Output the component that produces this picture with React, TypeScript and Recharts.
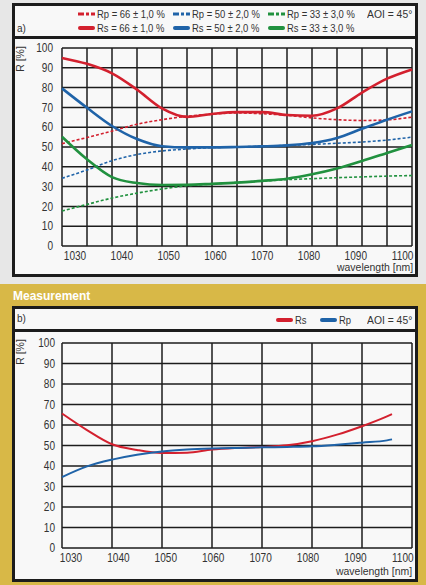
import { LineChart, Line, XAxis, YAxis, CartesianGrid } from 'recharts';

const FONT = "'Liberation Sans', Arial, sans-serif";
const INK = '#1c1c1c';
const TEXT = '#333';
const RED = '#d3202e';
const BLUE = '#1f63a8';
const GREEN = '#21913f';
const GOLD = '#d8b847';

// a) design curves, every 5 nm
const wavelengthsA = [1030, 1035, 1040, 1045, 1050, 1055, 1060, 1065, 1070, 1075, 1080, 1085, 1090, 1095, 1100];
const rs66 = [95, 92, 87.2, 79, 69.5, 65.2, 66.7, 67.6, 67.6, 66.2, 65.8, 69.5, 77.5, 84.5, 89.2];
const rp66 = [51.7, 54.8, 58, 61.5, 63.8, 65.5, 66.6, 67.2, 66.8, 66, 64.7, 63.8, 63.4, 63.7, 65.1];
const rs50 = [79.6, 69.8, 60.6, 54, 50.4, 49.8, 49.8, 50, 50.3, 50.8, 52, 54.6, 59.2, 63.8, 68];
const rp50 = [34.2, 38.4, 43.1, 46.2, 48, 49, 49.7, 50, 50.4, 50.8, 51.3, 51.9, 52.5, 53.5, 55];
const rs33 = [55.2, 43.8, 34.8, 31.8, 30.8, 30.9, 31.4, 32, 32.9, 34, 36.2, 39.1, 42.9, 47, 51];
const rp33 = [17.7, 21, 24.2, 26.7, 28.8, 30.4, 31.3, 32.1, 32.8, 33.5, 34, 34.5, 34.9, 35.3, 35.6];

// b) measurement
const wavelengthsB = [1030, 1035, 1040, 1045, 1050, 1055, 1060, 1065, 1070, 1075, 1080, 1085, 1090, 1095, 1096];
const rsMeas = [65.6, 57.5, 50.6, 47.8, 46.3, 46.5, 48, 48.8, 49.3, 50.1, 52.1, 55.3, 59.4, 64.2, 65.3];
const rpMeas = [34.6, 39.8, 43.1, 45.5, 47.1, 48, 48.5, 48.8, 49.1, 49.3, 49.6, 50.4, 51.4, 52.5, 53];

const ticksA = [1030, 1035, 1040, 1045, 1050, 1055, 1060, 1065, 1070, 1075, 1080, 1085, 1090, 1095, 1100];
const ticksB = [1030, 1040, 1050, 1060, 1070, 1080, 1090, 1100];
const ticksY = [0, 10, 20, 30, 40, 50, 60, 70, 80, 90, 100];

const dataA = wavelengthsA.map((wl, i) => ({
  wl, rs66: rs66[i], rp66: rp66[i], rs50: rs50[i], rp50: rp50[i], rs33: rs33[i], rp33: rp33[i],
}));
const dataB = wavelengthsB.map((wl, i) => ({ wl, rs: rsMeas[i], rp: rpMeas[i] }));

// the print uses a condensed face; squeeze Liberation Sans horizontally
const NARROW = 0.84;

// labels drift a little against the grid in the original print
const makeXTick = (start: number, drift: number) => (props: any) => {
  const { x, y, payload } = props;
  const v = payload.value;
  if (v % 10 !== 0) return <g />;
  const cx = x + start - (v - 1030) * drift;
  return (
    <text transform={`translate(${cx},${y}) scale(${NARROW},1)`} x={0} y={0} dy="0.71em" textAnchor="middle"
      fontSize={12} fill={TEXT} fontFamily={FONT}>{v}</text>
  );
};

const YTick = (props: any) => {
  const { x, y, payload } = props;
  return (
    <text transform={`translate(${x},${y}) scale(${NARROW},1)`} x={0} y={0} dy="0.355em" textAnchor="end"
      fontSize={12} fill={TEXT} fontFamily={FONT}>{payload.value}</text>
  );
};

const Swatch = ({ color, dashed }: { color: string; dashed?: boolean }) => (
  <svg width={17} height={6} style={{ display: 'block', flex: 'none' }}>
    {dashed
      ? <line x1={0} y1={3} x2={17} y2={3} stroke={color} strokeWidth={3} strokeDasharray="6 2 3 2" />
      : <line x1={2} y1={3} x2={15} y2={3} stroke={color} strokeWidth={4} strokeLinecap="round" />}
  </svg>
);

const Narrow = ({ children, scale = NARROW, origin = 'left' }: any) => (
  <span style={{ display: 'inline-block', transform: `scaleX(${scale})`, transformOrigin: origin }}>{children}</span>
);

const LegendItem = ({ left, top, color, dashed, text }: any) => (
  <div style={{ position: 'absolute', left, top, display: 'flex', alignItems: 'center', gap: 2,
    fontFamily: FONT, fontSize: 11.5, color: TEXT, whiteSpace: 'nowrap', lineHeight: '14px' }}>
    <Swatch color={color} dashed={dashed} />
    <Narrow scale={0.82}>{text}</Narrow>
  </div>
);

const Txt = ({ left, top, size = 12, children, style }: any) => (
  <div style={{ position: 'absolute', left, top, fontFamily: FONT, fontSize: size, color: TEXT,
    whiteSpace: 'nowrap', lineHeight: 1, ...style }}>{children}</div>
);

const Box = ({ top, height, sep }: { top: number; height: number; sep: number }) => (
  <>
    <div style={{ position: 'absolute', left: 12, top, width: 406, height, border: `3px solid ${INK}`,
      boxSizing: 'border-box', background: '#f8f8f8' }} />
    <div style={{ position: 'absolute', left: 12, top: sep, width: 406, height: 3, background: INK }} />
  </>
);

const YLabel = ({ cy }: { cy: number }) => (
  <div style={{ position: 'absolute', left: 5, top: cy - 6, width: 30, height: 12, textAlign: 'center',
    fontFamily: FONT, fontSize: 10.5, color: TEXT, lineHeight: '12px', transform: 'rotate(-90deg)' }}>R [%]</div>
);

export default function App() {
  return (
    <div style={{ position: 'relative', width: 426, height: 585, background: '#e7e7e7', overflow: 'hidden' }}>
      <style>{'body{margin:0}'}</style>
      <div style={{ position: 'absolute', left: 0, top: 284, width: 426, height: 301, background: GOLD }} />

      <Box top={3} height={274} sep={36} />
      <Txt left={17} top={24} size={10}>a)</Txt>
      <LegendItem left={78} top={7} color={RED} dashed text="Rp = 66 ± 1,0 %" />
      <LegendItem left={173} top={7} color={BLUE} dashed text="Rp = 50 ± 2,0 %" />
      <LegendItem left={268} top={7} color={GREEN} dashed text="Rp = 33 ± 3,0 %" />
      <Txt left={367} top={9} size={11.5}><Narrow scale={0.9}>AOI = 45°</Narrow></Txt>
      <LegendItem left={78} top={21} color={RED} text="Rs = 66 ± 1,0 %" />
      <LegendItem left={173} top={21} color={BLUE} text="Rs = 50 ± 2,0 %" />
      <LegendItem left={268} top={21} color={GREEN} text="Rs = 33 ± 3,0 %" />
      <YLabel cy={59} />
      <Txt left={0} top={262} size={11} style={{ width: 413, textAlign: 'right' }}>
        <Narrow scale={0.95} origin="right">wavelength [nm]</Narrow>
      </Txt>

      <div style={{ position: 'absolute', left: 0, top: 0 }}>
        <LineChart width={426} height={280} data={dataA} margin={{ top: 48, right: 14, bottom: 10, left: 0 }}>
          <CartesianGrid stroke={INK} strokeWidth={1.5} />
          <XAxis type="number" dataKey="wl" domain={[1030, 1100]} ticks={ticksA} interval={0}
            tickLine={false} axisLine={false} tickSize={0} tickMargin={5} height={24} tick={makeXTick(13, 0.32)} />
          <YAxis domain={[0, 100]} ticks={ticksY} interval={0} width={62} tickLine={false} axisLine={false}
            tickSize={0} tickMargin={9} tick={YTick} />
          <Line type="monotone" dataKey="rp66" stroke={RED} strokeWidth={1.6} strokeDasharray="3 2" dot={false} isAnimationActive={false} />
          <Line type="monotone" dataKey="rp50" stroke={BLUE} strokeWidth={1.6} strokeDasharray="3 2" dot={false} isAnimationActive={false} />
          <Line type="monotone" dataKey="rp33" stroke={GREEN} strokeWidth={1.6} strokeDasharray="3 2" dot={false} isAnimationActive={false} />
          <Line type="monotone" dataKey="rs66" stroke={RED} strokeWidth={2.6} dot={false} isAnimationActive={false} />
          <Line type="monotone" dataKey="rs50" stroke={BLUE} strokeWidth={2.6} dot={false} isAnimationActive={false} />
          <Line type="monotone" dataKey="rs33" stroke={GREEN} strokeWidth={2.6} dot={false} isAnimationActive={false} />
        </LineChart>
      </div>

      <Txt left={13} top={290} size={12} style={{ color: '#fff', fontWeight: 'bold' }}>Measurement</Txt>

      <Box top={306} height={276} sep={329} />
      <Txt left={17} top={314} size={10}>b)</Txt>
      <LegendItem left={276} top={313} color={RED} text="Rs" />
      <LegendItem left={320} top={313} color={BLUE} text="Rp" />
      <Txt left={367} top={315} size={11.5}><Narrow scale={0.9}>AOI = 45°</Narrow></Txt>
      <YLabel cy={352} />
      <Txt left={0} top={566} size={11} style={{ width: 412, textAlign: 'right' }}>
        <Narrow scale={0.95} origin="right">wavelength [nm]</Narrow>
      </Txt>

      <div style={{ position: 'absolute', left: 0, top: 306 }}>
        <LineChart width={426} height={276} data={dataB} margin={{ top: 37, right: 14, bottom: 4, left: 0 }}>
          <CartesianGrid stroke={INK} strokeWidth={1.5} />
          <XAxis type="number" dataKey="wl" domain={[1030, 1100]} ticks={ticksB} interval={0}
            tickLine={false} axisLine={false} tickSize={0} tickMargin={5} height={30} tick={makeXTick(9, 0.26)} />
          <YAxis domain={[0, 100]} ticks={ticksY} interval={0} width={62} tickLine={false} axisLine={false}
            tickSize={0} tickMargin={7} tick={YTick} />
          <Line type="monotone" dataKey="rs" stroke={RED} strokeWidth={2} dot={false} isAnimationActive={false} />
          <Line type="monotone" dataKey="rp" stroke={BLUE} strokeWidth={2} dot={false} isAnimationActive={false} />
        </LineChart>
      </div>
    </div>
  );
}
